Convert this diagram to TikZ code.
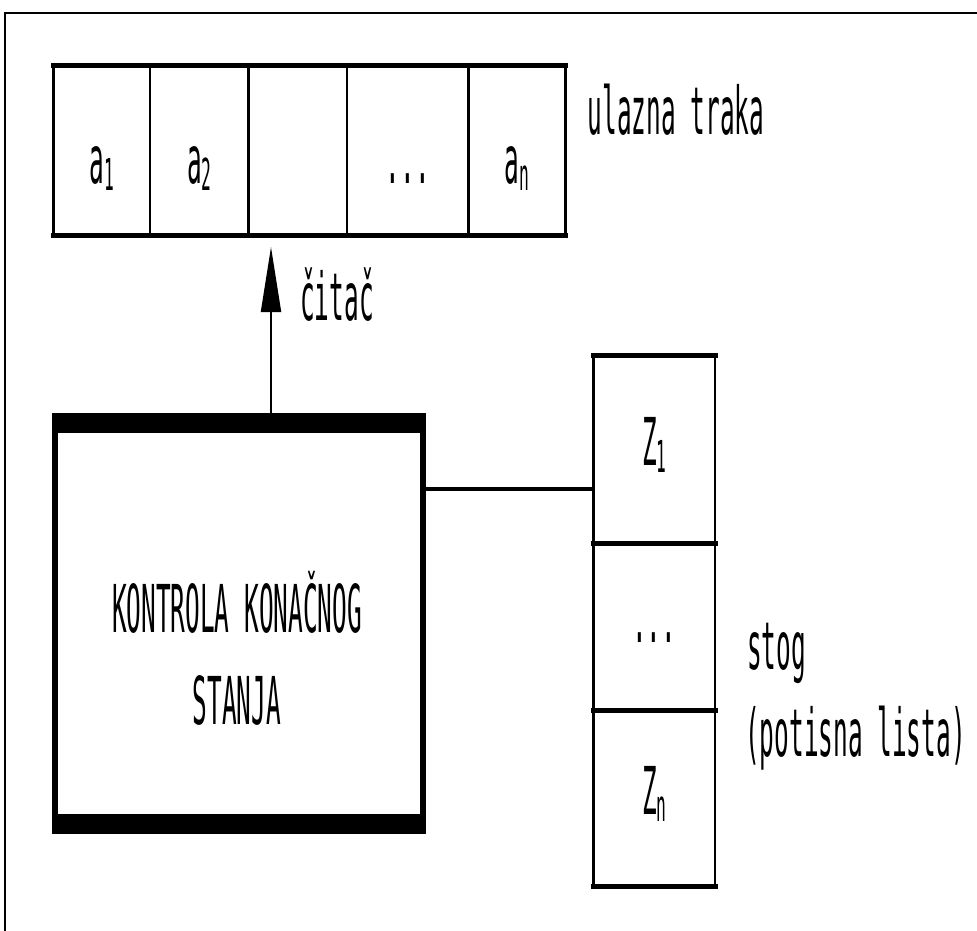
\documentclass[tikz,border=0pt]{standalone}
\usepackage{fontspec}
\usepackage{tikz}
\usetikzlibrary{positioning, arrows.meta}

% tall, narrow lettering
\newfontfamily\narrowmono[FakeStretch=0.37]{DejaVu Sans Mono}
\newcommand{\idx}[1]{\raisebox{-7pt}{\fontsize{44}{44}\selectfont #1}}

\tikzset{
  cell/.style={draw, line width=2.5pt, outer sep=0pt, inner sep=0pt,
    minimum height=170pt, text height=66pt, text depth=0pt},
  slot/.style={draw, line width=2.5pt, outer sep=0pt, inner sep=0pt,
    minimum width=121.5pt, text height=32pt, text depth=0pt},
  ctrlbox/.style={draw, line width=6pt, minimum width=368pt, minimum height=415pt,
    path picture={
      \fill (path picture bounding box.north west) rectangle ([yshift=-17pt]path picture bounding box.north east);
      \fill ([yshift=17pt]path picture bounding box.south west) rectangle (path picture bounding box.south east);
    }},
  txt/.style={inner sep=0pt},
  rim/.style={line width=5pt, line cap=rect},
  reader/.style={line width=2pt, -{Triangle[length=65pt, width=20pt]}},
  link/.style={line width=4.5pt}
}

\begin{document}
\begin{tikzpicture}[x=1pt, y=-1pt, font=\narrowmono\fontsize{66}{80}\selectfont]
  \useasboundingbox (0,0) rectangle (977,931);
  \draw[line width=2pt] (5,931) -- (5,13) -- (977,13);

  % input tape
  \node[cell, minimum width=96.5pt] (a1) at (101.75,150.5) {a\idx{1}};
  \node[cell, minimum width=98.5pt, right=0pt of a1] (a2) {a\idx{2}};
  \node[cell, minimum width=98.5pt, right=0pt of a2] (blank) {};
  \node[cell, minimum width=121.5pt, right=0pt of blank] (dots) {...};
  \node[cell, minimum width=97pt, right=0pt of dots] (an) {a\idx{n}};
  \draw[rim] (a1.north west) -- (an.north east) (a1.south west) -- (an.south east);
  \node[txt, anchor=base west] (tapelbl) at ([xshift=22pt, yshift=-69.5pt]an.north east) {ulazna traka};

  % finite control
  \node[ctrlbox] (ctrl) at (239,623.5) {};
  \node[txt, anchor=base] (ctrltop) at ([xshift=-2pt, yshift=-8.5pt]ctrl.center) {KONTROLA KONAČNOG};
  \node[txt, anchor=base] (ctrlbot) at ([yshift=-92pt]ctrltop.base) {STANJA};

  \draw[reader, shorten >=11.5pt] ([xshift=32pt]ctrl.north) -- ([xshift=32pt]ctrl.north |- blank.south);
  \node[txt, anchor=base west] (headlbl) at ([xshift=61pt, yshift=93pt]ctrl.north) {čitač};

  % pushdown stack
  \node[slot, minimum height=188pt] (z1) at (654.25,449) {Z\idx{1}};
  \node[slot, minimum height=167pt, below=0pt of z1] (zdots) {...};
  \node[slot, minimum height=176pt, below=0pt of zdots] (zn) {Z\idx{n}};
  \foreach \n in {z1, zdots, zn}
    \draw[rim] (\n.north west) -- (\n.north east) (\n.south west) -- (\n.south east);
  \node[txt, anchor=base west] (stacklbl) at (747,669) {stog};
  \node[txt, anchor=base west] (stacksub) at ([xshift=-2pt, yshift=-87pt]stacklbl.base west) {(potisna lista)};

  \draw[link] ([yshift=-40pt]z1.west) -- ([yshift=-40pt]z1.west -| ctrl.east);
\end{tikzpicture}
\end{document}
